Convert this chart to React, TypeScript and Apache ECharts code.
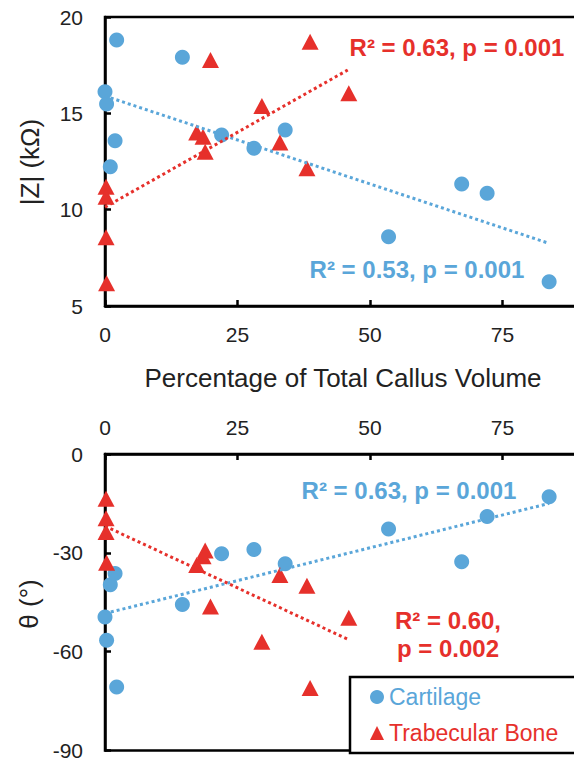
import React, { useEffect, useRef } from "react";
import * as echarts from "echarts";

// Cartilage: shared x (percentage of total callus volume)
const cartX = [0, 0.3, 1.0, 1.9, 2.2, 14.6, 22.0, 28.1, 34.0, 53.5, 67.3, 72.1, 83.8];
const cartZ = [16.12, 15.49, 12.23, 13.58, 18.81, 17.91, 13.88, 13.19, 14.14, 8.6, 11.33, 10.85, 6.26];
const cartTheta = [-49.5, -56.5, -39.7, -36.3, -70.7, -45.7, -30.3, -29.0, -33.3, -22.8, -32.7, -19.0, -13.0];

// Trabecular bone
const boneX = [0.2, 0.2, 0.2, 0.3, 17.3, 18.5, 18.9, 19.9, 29.6, 33.0, 38.1, 38.7, 46.0];
const boneZ = [11.19, 10.67, 8.57, 6.18, 14.0, 13.79, 13.01, 17.77, 15.38, 13.48, 12.15, 18.72, 16.04];
const boneTheta = [-13.6, -19.5, -23.7, -33.0, -33.7, -31.0, -29.3, -46.3, -57.0, -36.7, -40.0, -71.0, -49.7];

// Trend lines: [x, y] endpoints
const cartZTrend = [[0, 15.9], [83.8, 8.25]];
const boneZTrend = [[0, 10.13], [45.8, 17.25]];
const cartThetaTrend = [[0, -48.4], [83.8, -15.0]];
const boneThetaTrend = [[0, -21.9], [45.9, -56.3]];

const xTicks = { min: 0, max: 90, interval: 25 };
const zTicks = { min: 5, max: 20, interval: 5 };
const thetaTicks = { min: -90, max: 0, interval: 30 };

const BLUE = "#5AA6D9";
const RED = "#E6302B";
const FONT = "'Liberation Sans', Arial, sans-serif";

const zip = (xs: number[], ys: number[]) => xs.map((x, i) => [x, ys[i]]);

export default function App() {
  const ref = useRef<HTMLDivElement>(null);
  useEffect(() => {
    if (!ref.current) return;
    const chart = echarts.init(ref.current, undefined, { renderer: "svg" });
    const axisLine = { show: true, lineStyle: { color: "#000", width: 2.5 } };
    const axisTick = { show: true, inside: true, length: 6, lineStyle: { color: "#000", width: 2.5 } };
    const label = { color: "#222", fontSize: 21, fontFamily: FONT };
    const gridCommon = { left: 105, width: 477, show: true, borderColor: "#000", borderWidth: 2.5, backgroundColor: "transparent" };
    const dotted = (color: string) => ({ color, width: 3, type: [3, 3] as number[] });
    const ann = (x: number, y: number, text: string, fill: string) => ({
      type: "text", x, y, z: 20,
      style: { text, font: `bold 24px ${FONT}`, fill, textAlign: "center", textVerticalAlign: "middle" },
    });
    chart.setOption({
      animation: false,
      textStyle: { fontFamily: FONT },
      grid: [
        { ...gridCommon, top: 17, height: 289 },
        { ...gridCommon, top: 454, height: 299 },
      ],
      xAxis: [
        {
          gridIndex: 0, type: "value", position: "bottom", ...xTicks,
          axisLine, axisTick, splitLine: { show: false },
          axisLabel: { ...label, margin: 18, showMaxLabel: false },
        },
        {
          gridIndex: 1, type: "value", position: "top", ...xTicks,
          axisLine, axisTick, splitLine: { show: false },
          axisLabel: { ...label, margin: 16, showMaxLabel: false },
        },
      ],
      yAxis: [
        {
          gridIndex: 0, type: "value", ...zTicks,
          axisLine, axisTick, splitLine: { show: false },
          axisLabel: { ...label, margin: 22 },
        },
        {
          gridIndex: 1, type: "value", ...thetaTicks,
          axisLine, axisTick, splitLine: { show: false },
          axisLabel: { ...label, margin: 22 },
        },
      ],
      legend: {
        orient: "vertical", left: 370, top: 684, padding: 0, z: 30,
        itemWidth: 14, itemHeight: 14, itemGap: 10, selectedMode: false,
        textStyle: { fontSize: 23, lineHeight: 26, fontFamily: FONT },
        data: [
          { name: "Cartilage", icon: "circle", textStyle: { color: BLUE } },
          { name: "Trabecular Bone", icon: "triangle", textStyle: { color: RED } },
        ],
      },
      graphic: [
        { type: "rect", z: 1, shape: { x: 350, y: 677, width: 300, height: 76 }, style: { fill: "#fff", stroke: "#000", lineWidth: 2.5 } },
        { type: "text", x: 343, y: 378, style: { text: "Percentage of Total Callus Volume", font: `26px ${FONT}`, fill: "#222", textAlign: "center", textVerticalAlign: "middle" } },
        { type: "text", x: 30, y: 162, rotation: Math.PI / 2, style: { text: "|Z| (kΩ)", font: `26px ${FONT}`, fill: "#222", textAlign: "center", textVerticalAlign: "middle" } },
        { type: "text", x: 29, y: 604, rotation: Math.PI / 2, style: { text: "θ (°)", font: `26px ${FONT}`, fill: "#222", textAlign: "center", textVerticalAlign: "middle" } },
        ann(457, 47, "R² = 0.63, p = 0.001", RED),
        ann(417, 269, "R² = 0.53, p = 0.001", BLUE),
        ann(409, 490, "R² = 0.63, p = 0.001", BLUE),
        ann(448, 620, "R² = 0.60,", RED),
        ann(448, 648, "p = 0.002", RED),
      ],
      series: [
        { name: "Cartilage", type: "scatter", xAxisIndex: 0, yAxisIndex: 0, symbol: "circle", symbolSize: 15, clip: false, itemStyle: { color: BLUE, opacity: 1 }, data: zip(cartX, cartZ), z: 3 },
        { name: "Trabecular Bone", type: "scatter", xAxisIndex: 0, yAxisIndex: 0, symbol: "triangle", symbolSize: [17, 16], clip: false, itemStyle: { color: RED, opacity: 1 }, data: zip(boneX, boneZ), z: 3 },
        { name: "Cartilage", type: "scatter", xAxisIndex: 1, yAxisIndex: 1, symbol: "circle", symbolSize: 15, clip: false, itemStyle: { color: BLUE, opacity: 1 }, data: zip(cartX, cartTheta), z: 3 },
        { name: "Trabecular Bone", type: "scatter", xAxisIndex: 1, yAxisIndex: 1, symbol: "triangle", symbolSize: [17, 16], clip: false, itemStyle: { color: RED, opacity: 1 }, data: zip(boneX, boneTheta), z: 3 },
        { type: "line", xAxisIndex: 0, yAxisIndex: 0, data: cartZTrend, showSymbol: false, symbol: "none", lineStyle: dotted(BLUE), z: 4, silent: true },
        { type: "line", xAxisIndex: 0, yAxisIndex: 0, data: boneZTrend, showSymbol: false, symbol: "none", lineStyle: dotted(RED), z: 4, silent: true },
        { type: "line", xAxisIndex: 1, yAxisIndex: 1, data: cartThetaTrend, showSymbol: false, symbol: "none", lineStyle: dotted(BLUE), z: 4, silent: true },
        { type: "line", xAxisIndex: 1, yAxisIndex: 1, data: boneThetaTrend, showSymbol: false, symbol: "none", lineStyle: dotted(RED), z: 4, silent: true },
      ],
    });
    return () => chart.dispose();
  }, []);
  return (
    <div style={{ position: "fixed", left: 0, top: 0, width: 574, height: 761, overflow: "hidden", background: "#fff" }}>
      <div ref={ref} style={{ width: 600, height: 761 }} />
    </div>
  );
}
